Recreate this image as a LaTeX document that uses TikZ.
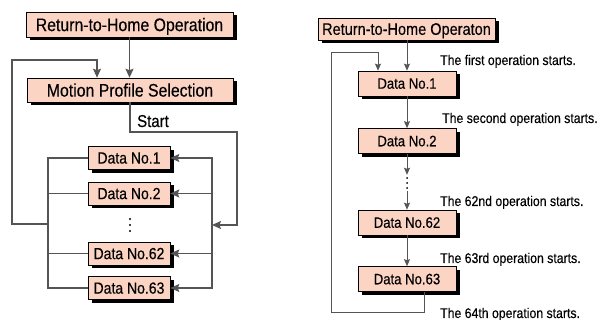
\documentclass[tikz,border=0pt]{standalone}
\usepackage{fontspec}
\setmainfont{Liberation Sans}[FakeStretch=0.87,FakeBold=0.3]
\usetikzlibrary{shadows,arrows.meta}

\definecolor{boxfill}{RGB}{252,212,196}
\definecolor{wiregray}{RGB}{85,85,85}

\begin{document}
\begin{tikzpicture}[x=1pt,y=-1pt,
    box/.style={draw=black, line width=0.6pt, fill=boxfill, inner sep=0pt, text depth=0pt,
        drop shadow={shadow xshift=3.5pt, shadow yshift=-3.5pt, fill=black, opacity=1}},
    wire/.style={draw=wiregray, line width=1.3pt},
    thinwire/.style={draw=wiregray, line width=1pt},
    tip/.style={-{Stealth[length=9pt,width=8pt,inset=1.5pt]}},
    smalltip/.style={-{Stealth[length=7pt,width=6pt,inset=1pt]}},
    note/.style={anchor=base west, inner sep=0pt, font=\fontsize{14.1}{16}\selectfont},
]
        \useasboundingbox (0,0) rectangle (600,320);

        % left: return-to-home
        \node [box,
            minimum width=207pt,
            minimum height=25pt,
            font=\fontsize{18.2}{20}\selectfont,
        ] (lrth) at (129.5,24.5) {Return-to-Home Operation};

        % left: motion profile selection
        \node [box,
            minimum width=206pt,
            minimum height=24pt,
            font=\fontsize{18.2}{20}\selectfont,
        ] (mps) at (130,90) {Motion Profile Selection};

        % left: data boxes
        \foreach \n/\y in {1/158,2/193.5,62/253.5,63/288}
            \node [box,
                minimum width=82pt,
                minimum height=23pt,
                font=\fontsize{16.1}{18}\selectfont,
            ] (ld\n) at (129,\y) {Data No.\n};
        % left: dots
        \foreach \y in {219,225,231}
            \fill (130,\y) circle (1.1pt);

        \coordinate (lbus) at (48,224);
        \coordinate (rbus) at (212,225);
        \coordinate (lloop) at (12,60);
        \coordinate (sturn) at (237,132);

        \draw[wire,tip] (lrth.south) -- (lrth.south |- mps.north);
        \draw[wire,tip] (lbus) -| (lloop) -| ([xshift=-33pt]mps.north);
        \draw[wire,tip] (mps.south) |- (sturn) |- (rbus);
        \node [anchor=base west, inner sep=0pt, font=\fontsize{17.2}{19}\selectfont] (start) at (137,127) {Start};

        % left bus
        \draw[wire] (ld1.west) -- (ld1.west -| lbus) -- (ld63.west -| lbus) -- (ld63.west);
        \foreach \n in {2,62}
            \draw[wire] (ld\n.west -| lbus) -- (ld\n.west);
        % right bus
        \draw[wire,{Stealth[length=9pt,width=8pt,inset=1.5pt]}-{Stealth[length=9pt,width=8pt,inset=1.5pt]}]
            (ld1.east) -- (ld1.east -| rbus) -- (ld63.east -| rbus) -- (ld63.east);
        \foreach \n in {2,62}
            \draw[wire,tip] (ld\n.east -| rbus) -- (ld\n.east);

        % right: return-to-home
        \node [box,
            minimum width=177pt,
            minimum height=22pt,
            font=\fontsize{16.7}{18}\selectfont,
        ] (rrth) at (406.5,29) {Return-to-Home Operaton};

        % right: data boxes
        \foreach \n/\y in {1/83.5,2/141,62/222.5,63/279}
            \node [box,
                minimum width=98pt,
                minimum height=25pt,
                font=\fontsize{15.1}{17}\selectfont,
            ] (rd\n) at (407,\y) {Data No.\n};
        % right: dots
        \node [inner sep=0pt, minimum width=4pt, minimum height=16pt] (rdots) at (407,183) {};
        \foreach \y in {178,183,188}
            \fill (407,\y) circle (1pt);

        \coordinate (rtop) at (331,53);
        \coordinate (rbot) at (331,313);

        \draw[thinwire,smalltip] (rrth.south -| rd1.north) -- (rd1.north);
        \draw[thinwire,smalltip] (rd1) -- (rd2);
        \draw[thinwire,smalltip] (rd2) -- (rdots);
        \draw[thinwire,smalltip] (rdots) -- (rd62);
        \draw[thinwire,smalltip] (rd62) -- (rd63);
        \draw[thinwire,smalltip] ([xshift=17pt]rd63.south) |- (rbot) -- (rtop) -| ([xshift=-29pt]rd1.north);

        % right: labels
        \node [note] (s1) at (440,65) {The first operation starts.};
        \node [note] (s2) at (442,123) {The second operation starts.};
        \node [note] (s62) at (440,206) {The 62nd operation starts.};
        \node [note] (s63) at (440,263) {The 63rd operation starts.};
        \node [note] (s64) at (440,318) {The 64th operation starts.};
\end{tikzpicture}
\end{document}
